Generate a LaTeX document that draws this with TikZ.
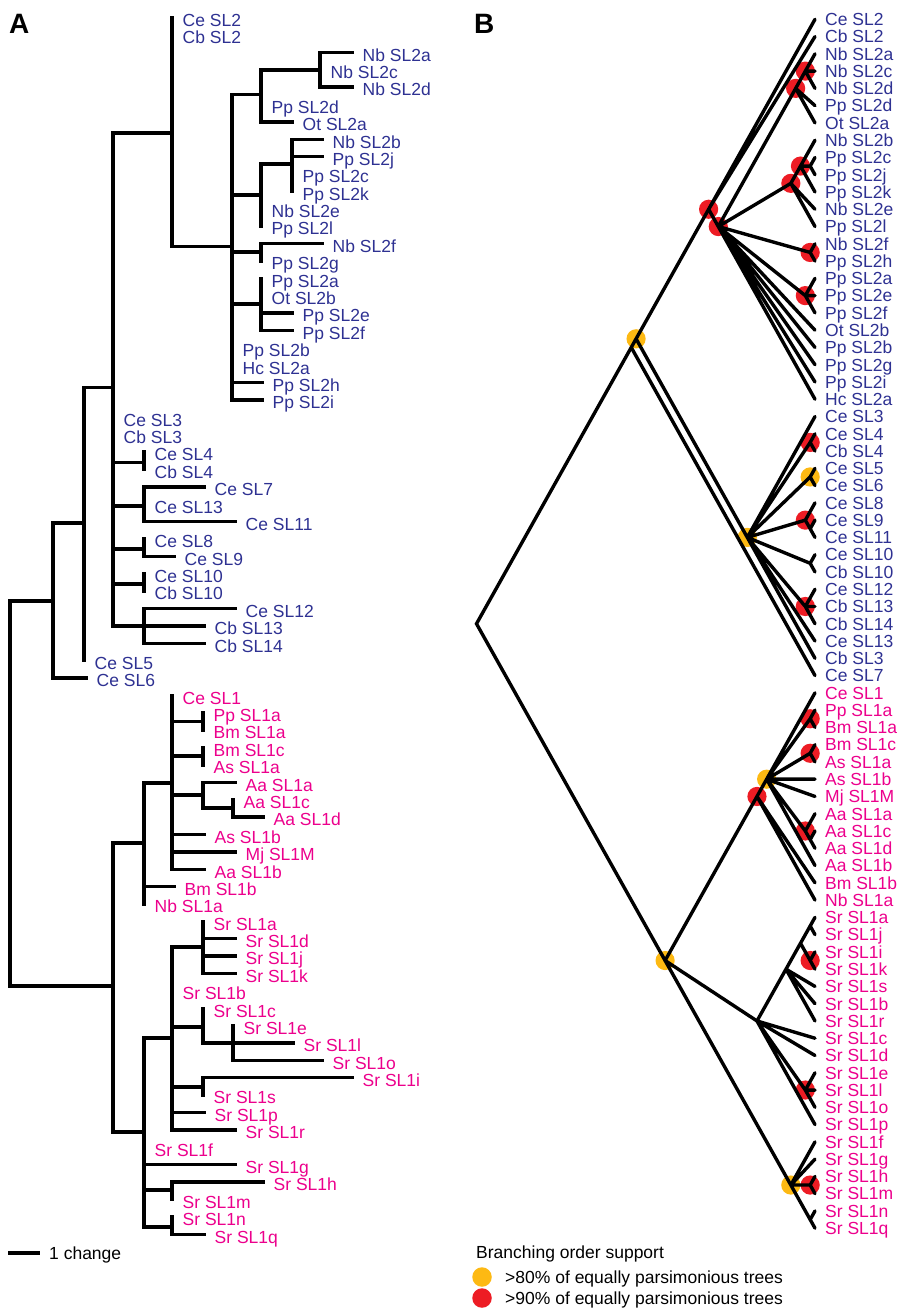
\documentclass[tikz,border=0pt]{standalone}
\usepackage{fontspec}
\setmainfont{Liberation Sans}
\usepackage{xcolor}
\usetikzlibrary{backgrounds}

\definecolor{slblue}{RGB}{46,49,146}
\definecolor{slpink}{RGB}{236,0,140}
\definecolor{supyel}{RGB}{253,185,19}
\definecolor{supred}{RGB}{237,28,36}

% panel A: leaf = name, row, tip x, colour, text
\newcommand\aleaf[5]{%
  \coordinate (#1) at (#3,{17.6+17.38*#2});
  \node[lab,text=#4] (l#1) at ({#3+10.5},{26.4+17.38*#2}) {#5};}
% panel B: leaf = name, row, colour, text
\newcommand\bleaf[4]{%
  \coordinate (#1) at (815,{19.3+17.27*#2});
  \node[lab,text=#3] (l#1) at (825,{25.6+17.27*#2}) {#4};}
% panel B: inner node over rows #2..#3
\newcommand\bnode[3]{%
  \coordinate (#1) at ({815-4.8356*(#3-#2)},{19.3+8.635*(#2+#3)});}

\begin{document}
\begin{tikzpicture}[x=1pt, y=-1pt,
  lab/.style={inner sep=0pt, anchor=base west, font=\fontsize{17.5}{18}\selectfont},
  panel/.style={inner sep=0pt, anchor=base west, font=\bfseries\fontsize{28}{28}\selectfont},
  abranch/.style={line width=3.3pt, line cap=rect},
  bbranch/.style={line width=3.4pt, line cap=round},
  hi/.style={fill=supyel},
  vhi/.style={fill=supred},
]
\useasboundingbox (0,0) rectangle (900,1309);

\node[panel] (panA) at (9,33) {A};
\node[panel] (panB) at (474,33) {B};

% ---------------- A: phylogram ----------------
\aleaf{ta0}{0}{172}{slblue}{Ce SL2}
\aleaf{ta1}{1}{172}{slblue}{Cb SL2}
\aleaf{ta2}{2}{352}{slblue}{Nb SL2a}
\aleaf{ta3}{3}{320}{slblue}{Nb SL2c}
\aleaf{ta4}{4}{352}{slblue}{Nb SL2d}
\aleaf{ta5}{5}{261}{slblue}{Pp SL2d}
\aleaf{ta6}{6}{292}{slblue}{Ot SL2a}
\aleaf{ta7}{7}{322}{slblue}{Nb SL2b}
\aleaf{ta8}{8}{322}{slblue}{Pp SL2j}
\aleaf{ta9}{9}{292}{slblue}{Pp SL2c}
\aleaf{ta10}{10}{292}{slblue}{Pp SL2k}
\aleaf{ta11}{11}{261}{slblue}{Nb SL2e}
\aleaf{ta12}{12}{261}{slblue}{Pp SL2l}
\aleaf{ta13}{13}{322}{slblue}{Nb SL2f}
\aleaf{ta14}{14}{261}{slblue}{Pp SL2g}
\aleaf{ta15}{15}{261}{slblue}{Pp SL2a}
\aleaf{ta16}{16}{261}{slblue}{Ot SL2b}
\aleaf{ta17}{17}{292}{slblue}{Pp SL2e}
\aleaf{ta18}{18}{292}{slblue}{Pp SL2f}
\aleaf{ta19}{19}{232}{slblue}{Pp SL2b}
\aleaf{ta20}{20}{232}{slblue}{Hc SL2a}
\aleaf{ta21}{21}{262}{slblue}{Pp SL2h}
\aleaf{ta22}{22}{262}{slblue}{Pp SL2i}
\aleaf{ta23}{23}{113}{slblue}{Ce SL3}
\aleaf{ta24}{24}{113}{slblue}{Cb SL3}
\aleaf{ta25}{25}{144}{slblue}{Ce SL4}
\aleaf{ta26}{26}{144}{slblue}{Cb SL4}
\aleaf{ta27}{27}{204}{slblue}{Ce SL7}
\aleaf{ta28}{28}{144}{slblue}{Ce SL13}
\aleaf{ta29}{29}{235}{slblue}{Ce SL11}
\aleaf{ta30}{30}{144}{slblue}{Ce SL8}
\aleaf{ta31}{31}{174}{slblue}{Ce SL9}
\aleaf{ta32}{32}{144}{slblue}{Ce SL10}
\aleaf{ta33}{33}{144}{slblue}{Cb SL10}
\aleaf{ta34}{34}{235}{slblue}{Ce SL12}
\aleaf{ta35}{35}{204}{slblue}{Cb SL13}
\aleaf{ta36}{36}{204}{slblue}{Cb SL14}
\aleaf{ta37}{37}{84}{slblue}{Ce SL5}
\aleaf{ta38}{38}{86}{slblue}{Ce SL6}
\aleaf{ta39}{39}{172}{slpink}{Ce SL1}
\aleaf{ta40}{40}{203}{slpink}{Pp SL1a}
\aleaf{ta41}{41}{203}{slpink}{Bm SL1a}
\aleaf{ta42}{42}{203}{slpink}{Bm SL1c}
\aleaf{ta43}{43}{203}{slpink}{As SL1a}
\aleaf{ta44}{44}{235}{slpink}{Aa SL1a}
\aleaf{ta45}{45}{233}{slpink}{Aa SL1c}
\aleaf{ta46}{46}{263}{slpink}{Aa SL1d}
\aleaf{ta47}{47}{204}{slpink}{As SL1b}
\aleaf{ta48}{48}{235}{slpink}{Mj SL1M}
\aleaf{ta49}{49}{204}{slpink}{Aa SL1b}
\aleaf{ta50}{50}{174}{slpink}{Bm SL1b}
\aleaf{ta51}{51}{144}{slpink}{Nb SL1a}
\aleaf{ta52}{52}{203}{slpink}{Sr SL1a}
\aleaf{ta53}{53}{235}{slpink}{Sr SL1d}
\aleaf{ta54}{54}{235}{slpink}{Sr SL1j}
\aleaf{ta55}{55}{235}{slpink}{Sr SL1k}
\aleaf{ta56}{56}{172}{slpink}{Sr SL1b}
\aleaf{ta57}{57}{203}{slpink}{Sr SL1c}
\aleaf{ta58}{58}{233}{slpink}{Sr SL1e}
\aleaf{ta59}{59}{293}{slpink}{Sr SL1l}
\aleaf{ta60}{60}{322}{slpink}{Sr SL1o}
\aleaf{ta61}{61}{352}{slpink}{Sr SL1i}
\aleaf{ta62}{62}{203}{slpink}{Sr SL1s}
\aleaf{ta63}{63}{204}{slpink}{Sr SL1p}
\aleaf{ta64}{64}{235}{slpink}{Sr SL1r}
\aleaf{ta65}{65}{144}{slpink}{Sr SL1f}
\aleaf{ta66}{66}{235}{slpink}{Sr SL1g}
\aleaf{ta67}{67}{263}{slpink}{Sr SL1h}
\aleaf{ta68}{68}{172}{slpink}{Sr SL1m}
\aleaf{ta69}{69}{172}{slpink}{Sr SL1n}
\aleaf{ta70}{70}{204}{slpink}{Sr SL1q}

\coordinate (aR) at (10,793);
\coordinate (a16) at (53,601);
\coordinate (a15) at (84,523);
\coordinate (a9) at (113,387.7);
\coordinate (a1) at (172,133);
\coordinate (a2) at (232,246.7);
\coordinate (a3) at (261,94.3);
\coordinate (a4) at (320,70);
\coordinate (a5) at (261,195);
\coordinate (a6) at (292,164);
\coordinate (a7) at (261,252);
\coordinate (a8) at (261,304);
\coordinate (a10) at (144,462.7);
\coordinate (a11) at (144,506);
\coordinate (a12) at (144,549);
\coordinate (a13) at (144,584);
\coordinate (a14) at (144,625.9);
\coordinate (a17) at (113,986);
\coordinate (a18) at (144,843);
\coordinate (a19) at (172,783);
\coordinate (a20) at (203,721.7);
\coordinate (a21) at (203,756);
\coordinate (a23) at (203,795);
\coordinate (a24) at (233,808);
\coordinate (a22) at (144,1132);
\coordinate (a25) at (172,1038);
\coordinate (a26) at (203,947);
\coordinate (a27) at (203,1027);
\coordinate (a28) at (233,1043);
\coordinate (a29) at (203,1087);
\coordinate (a30) at (172,1190);
\coordinate (a31) at (172,1227);

\draw[abranch] (aR) |- (a16) (aR) |- (a17)
  (a16) |- (a15) (a16) |- (ta38)
  (a15) |- (a9) (a15) |- (ta37)
  (a9) |- (a1) (a9) |- (ta23) (a9) |- (ta24) (a9) |- (a10) (a9) |- (a11)
  (a9) |- (a12) (a9) |- (a13) (a9) |- (a14)
  (a1) |- (ta0) (a1) |- (ta1) (a1) |- (a2)
  (a2) |- (a3) (a2) |- (a5) (a2) |- (a7) (a2) |- (a8)
  (a2) |- (ta19) (a2) |- (ta20) (a2) |- (ta21) (a2) |- (ta22)
  (a3) |- (a4) (a3) |- (ta5) (a3) |- (ta6)
  (a4) |- (ta2) (a4) |- (ta3) (a4) |- (ta4)
  (a5) |- (a6) (a5) |- (ta11) (a5) |- (ta12)
  (a6) |- (ta7) (a6) |- (ta8) (a6) |- (ta9) (a6) |- (ta10)
  (a7) |- (ta13) (a7) |- (ta14)
  (a8) |- (ta15) (a8) |- (ta16) (a8) |- (ta17) (a8) |- (ta18)
  (a10) |- (ta25) (a10) |- (ta26)
  (a11) |- (ta27) (a11) |- (ta28) (a11) |- (ta29)
  (a12) |- (ta30) (a12) |- (ta31)
  (a13) |- (ta32) (a13) |- (ta33)
  (a14) |- (ta34) (a14) |- (ta35) (a14) |- (ta36)
  (a17) |- (a18) (a17) |- (a22)
  (a18) |- (a19) (a18) |- (ta50) (a18) |- (ta51)
  (a19) |- (ta39) (a19) |- (a20) (a19) |- (a21) (a19) |- (a23)
  (a19) |- (ta47) (a19) |- (ta48) (a19) |- (ta49)
  (a20) |- (ta40) (a20) |- (ta41)
  (a21) |- (ta42) (a21) |- (ta43)
  (a23) |- (ta44) (a23) |- (a24)
  (a24) |- (ta45) (a24) |- (ta46)
  (a22) |- (a25) (a22) |- (ta65) (a22) |- (ta66) (a22) |- (a30) (a22) |- (a31)
  (a25) |- (a26) (a25) |- (ta56) (a25) |- (a27) (a25) |- (a29)
  (a25) |- (ta63) (a25) |- (ta64)
  (a26) |- (ta52) (a26) |- (ta53) (a26) |- (ta54) (a26) |- (ta55)
  (a27) |- (ta57) (a27) |- (a28)
  (a28) |- (ta58) (a28) |- (ta59) (a28) |- (ta60)
  (a29) |- (ta61) (a29) |- (ta62)
  (a30) |- (ta67) (a30) |- (ta68)
  (a31) |- (ta69) (a31) |- (ta70);

% scale bar
\coordinate (sbl) at (8,1253);
\coordinate (sbr) at (40,1253);
\draw[line width=3.3pt] (sbl) -- (sbr);
\node[lab] (sbt) at (49,1259) {1 change};

% ---------------- B: cladogram ----------------
\bleaf{tb0}{0}{slblue}{Ce SL2}
\bleaf{tb1}{1}{slblue}{Cb SL2}
\bleaf{tb2}{2}{slblue}{Nb SL2a}
\bleaf{tb3}{3}{slblue}{Nb SL2c}
\bleaf{tb4}{4}{slblue}{Nb SL2d}
\bleaf{tb5}{5}{slblue}{Pp SL2d}
\bleaf{tb6}{6}{slblue}{Ot SL2a}
\bleaf{tb7}{7}{slblue}{Nb SL2b}
\bleaf{tb8}{8}{slblue}{Pp SL2c}
\bleaf{tb9}{9}{slblue}{Pp SL2j}
\bleaf{tb10}{10}{slblue}{Pp SL2k}
\bleaf{tb11}{11}{slblue}{Nb SL2e}
\bleaf{tb12}{12}{slblue}{Pp SL2l}
\bleaf{tb13}{13}{slblue}{Nb SL2f}
\bleaf{tb14}{14}{slblue}{Pp SL2h}
\bleaf{tb15}{15}{slblue}{Pp SL2a}
\bleaf{tb16}{16}{slblue}{Pp SL2e}
\bleaf{tb17}{17}{slblue}{Pp SL2f}
\bleaf{tb18}{18}{slblue}{Ot SL2b}
\bleaf{tb19}{19}{slblue}{Pp SL2b}
\bleaf{tb20}{20}{slblue}{Pp SL2g}
\bleaf{tb21}{21}{slblue}{Pp SL2i}
\bleaf{tb22}{22}{slblue}{Hc SL2a}
\bleaf{tb23}{23}{slblue}{Ce SL3}
\bleaf{tb24}{24}{slblue}{Ce SL4}
\bleaf{tb25}{25}{slblue}{Cb SL4}
\bleaf{tb26}{26}{slblue}{Ce SL5}
\bleaf{tb27}{27}{slblue}{Ce SL6}
\bleaf{tb28}{28}{slblue}{Ce SL8}
\bleaf{tb29}{29}{slblue}{Ce SL9}
\bleaf{tb30}{30}{slblue}{Ce SL11}
\bleaf{tb31}{31}{slblue}{Ce SL10}
\bleaf{tb32}{32}{slblue}{Cb SL10}
\bleaf{tb33}{33}{slblue}{Ce SL12}
\bleaf{tb34}{34}{slblue}{Cb SL13}
\bleaf{tb35}{35}{slblue}{Cb SL14}
\bleaf{tb36}{36}{slblue}{Ce SL13}
\bleaf{tb37}{37}{slblue}{Cb SL3}
\bleaf{tb38}{38}{slblue}{Ce SL7}
\bleaf{tb39}{39}{slpink}{Ce SL1}
\bleaf{tb40}{40}{slpink}{Pp SL1a}
\bleaf{tb41}{41}{slpink}{Bm SL1a}
\bleaf{tb42}{42}{slpink}{Bm SL1c}
\bleaf{tb43}{43}{slpink}{As SL1a}
\bleaf{tb44}{44}{slpink}{As SL1b}
\bleaf{tb45}{45}{slpink}{Mj SL1M}
\bleaf{tb46}{46}{slpink}{Aa SL1a}
\bleaf{tb47}{47}{slpink}{Aa SL1c}
\bleaf{tb48}{48}{slpink}{Aa SL1d}
\bleaf{tb49}{49}{slpink}{Aa SL1b}
\bleaf{tb50}{50}{slpink}{Bm SL1b}
\bleaf{tb51}{51}{slpink}{Nb SL1a}
\bleaf{tb52}{52}{slpink}{Sr SL1a}
\bleaf{tb53}{53}{slpink}{Sr SL1j}
\bleaf{tb54}{54}{slpink}{Sr SL1i}
\bleaf{tb55}{55}{slpink}{Sr SL1k}
\bleaf{tb56}{56}{slpink}{Sr SL1s}
\bleaf{tb57}{57}{slpink}{Sr SL1b}
\bleaf{tb58}{58}{slpink}{Sr SL1r}
\bleaf{tb59}{59}{slpink}{Sr SL1c}
\bleaf{tb60}{60}{slpink}{Sr SL1d}
\bleaf{tb61}{61}{slpink}{Sr SL1e}
\bleaf{tb62}{62}{slpink}{Sr SL1l}
\bleaf{tb63}{63}{slpink}{Sr SL1o}
\bleaf{tb64}{64}{slpink}{Sr SL1p}
\bleaf{tb65}{65}{slpink}{Sr SL1f}
\bleaf{tb66}{66}{slpink}{Sr SL1g}
\bleaf{tb67}{67}{slpink}{Sr SL1h}
\bleaf{tb68}{68}{slpink}{Sr SL1m}
\bleaf{tb69}{69}{slpink}{Sr SL1n}
\bleaf{tb70}{70}{slpink}{Sr SL1q}

\bnode{bRoot}{0}{70}
\bnode{bX}{0}{38}
\bnode{bYA}{0}{37}
\bnode{bP}{0}{22}
\bnode{bQ}{2}{22}
\bnode{bT}{2}{6}
\bnode{bV}{2}{4}
\bnode{bW}{7}{12}
\bnode{bXn}{7}{10}
\bnode{bYn}{8}{9}
\bnode{bZa}{13}{14}
\bnode{bZb}{15}{17}
\bnode{bR}{23}{37}
\bnode{bRa}{24}{25}
\bnode{bRb}{26}{27}
\bnode{bRc}{28}{30}
\bnode{bRd}{29}{30}
\bnode{bRe}{31}{32}
\bnode{bRf}{33}{35}
\bnode{bYB}{39}{70}
\bnode{bS}{39}{51}
\bnode{bSa}{39}{49}
\bnode{bSb}{40}{41}
\bnode{bSc}{42}{43}
\bnode{bSd}{46}{48}
\bnode{bSe}{47}{48}
\bnode{bH}{52}{64}
\bnode{bH2}{52}{58}
\bnode{bH3}{52}{55}
\bnode{bH4}{52}{53}
\bnode{bH6}{54}{55}
\bnode{bH5}{61}{63}
\bnode{bG}{65}{70}
\bnode{bG1}{67}{68}
\bnode{bG2}{69}{70}

\begin{scope}[on background layer]
  \foreach \n in {bYA,bR,bRb,bYB,bSa,bG}
    \fill[hi] (\n) circle (9.6pt);
  \foreach \n in {bP,bQ,bT,bV,bW,bXn,bZa,bZb,bRa,bRc,bRf,bS,bSb,bSc,bSd,bH6,bH5,bG1}
    \fill[vhi] (\n) circle (9.6pt);
\end{scope}

\draw[line width=3.4pt, line join=miter] (bX) -- (bRoot) -- (bYB);
\draw[bbranch] (bX) -- (bYA) (bX) -- (tb38)
  (bYA) -- (bP) (bYA) -- (bR)
  (bP) -- (tb0) (bP) -- (tb1) (bP) -- (bQ)
  (bQ) -- (bT) (bQ) -- (bW) (bQ) -- (bZa) (bQ) -- (bZb)
  (bQ) -- (tb18) (bQ) -- (tb19) (bQ) -- (tb20) (bQ) -- (tb21) (bQ) -- (tb22)
  (bT) -- (bV) (bT) -- (tb5) (bT) -- (tb6)
  (bV) -- (tb2) (bV) -- (tb3) (bV) -- (tb4)
  (bW) -- (bXn) (bW) -- (tb11) (bW) -- (tb12)
  (bXn) -- (tb7) (bXn) -- (bYn) (bXn) -- (tb10)
  (bYn) -- (tb8) (bYn) -- (tb9)
  (bZa) -- (tb13) (bZa) -- (tb14)
  (bZb) -- (tb15) (bZb) -- (tb16) (bZb) -- (tb17)
  (bR) -- (tb23) (bR) -- (bRa) (bR) -- (bRb) (bR) -- (bRc) (bR) -- (bRe)
  (bR) -- (bRf) (bR) -- (tb36) (bR) -- (tb37)
  (bRa) -- (tb24) (bRa) -- (tb25)
  (bRb) -- (tb26) (bRb) -- (tb27)
  (bRc) -- (tb28) (bRc) -- (bRd)
  (bRd) -- (tb29) (bRd) -- (tb30)
  (bRe) -- (tb31) (bRe) -- (tb32)
  (bRf) -- (tb33) (bRf) -- (tb34) (bRf) -- (tb35)
  (bYB) -- (bS) (bYB) -- (bH) (bYB) -- (bG)
  (bS) -- (bSa) (bS) -- (tb50) (bS) -- (tb51)
  (bSa) -- (tb39) (bSa) -- (bSb) (bSa) -- (bSc) (bSa) -- (tb44)
  (bSa) -- (tb45) (bSa) -- (bSd) (bSa) -- (tb49)
  (bSb) -- (tb40) (bSb) -- (tb41)
  (bSc) -- (tb42) (bSc) -- (tb43)
  (bSd) -- (tb46) (bSd) -- (bSe)
  (bSe) -- (tb47) (bSe) -- (tb48)
  (bH) -- (bH2) (bH) -- (tb59) (bH) -- (tb60) (bH) -- (bH5) (bH) -- (tb64)
  (bH2) -- (bH3) (bH2) -- (tb56) (bH2) -- (tb57) (bH2) -- (tb58)
  (bH3) -- (bH4) (bH3) -- (bH6)
  (bH4) -- (tb52) (bH4) -- (tb53)
  (bH6) -- (tb54) (bH6) -- (tb55)
  (bH5) -- (tb61) (bH5) -- (tb62) (bH5) -- (tb63)
  (bG) -- (tb65) (bG) -- (tb66) (bG) -- (bG1) (bG) -- (bG2)
  (bG1) -- (tb67) (bG1) -- (tb68)
  (bG2) -- (tb69) (bG2) -- (tb70);

% legend
\node[lab] (legT) at (476,1258) {Branching order support};
\node[circle, hi, minimum size=19.5pt, inner sep=0pt] (k80) at (482,1277) {};
\node[circle, vhi, minimum size=19.5pt, inner sep=0pt] (k90) at (482,1298) {};
\node[lab] (t80) at (505,1283.3) {>80\% of equally parsimonious trees};
\node[lab] (t90) at (505,1304.3) {>90\% of equally parsimonious trees};
\end{tikzpicture}
\end{document}
